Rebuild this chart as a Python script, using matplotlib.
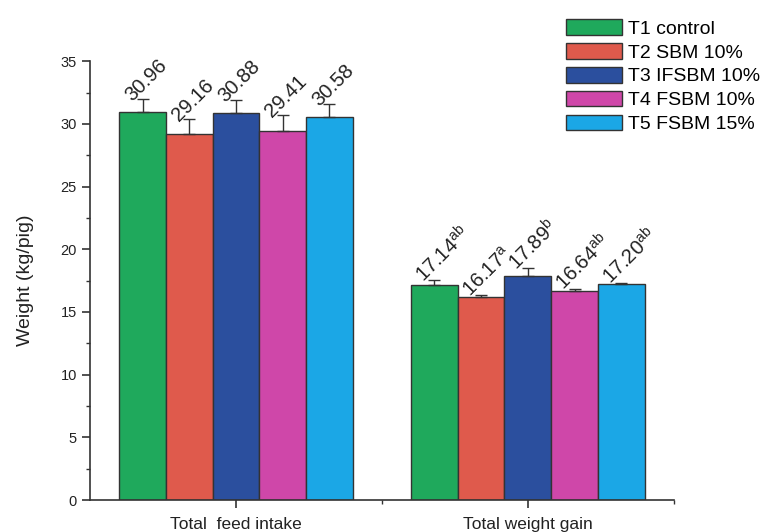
import matplotlib
matplotlib.use("Agg")
import matplotlib.pyplot as plt
import numpy as np

plt.rcParams['font.family'] = ['Liberation Sans', 'DejaVu Sans']
plt.rcParams['mathtext.fontset'] = 'custom'
plt.rcParams['mathtext.rm'] = 'Liberation Sans'

groups = ["Total  feed intake", "Total weight gain"]
treatments = ["T1 control", "T2 SBM 10%", "T3 IFSBM 10%", "T4 FSBM 10%", "T5 FSBM 15%"]
colors = ["#1fa95c", "#df5a4c", "#2b4f9e", "#cf47a9", "#1ba7e6"]

feed_intake = [30.96, 29.16, 30.88, 29.41, 30.58]
feed_err = [1.0, 1.2, 1.0, 1.3, 1.0]
weight_gain = [17.14, 16.17, 17.89, 16.64, 17.20]
gain_err = [0.4, 0.2, 0.6, 0.2, 0.15]
gain_letters = ["ab", "a", "b", "ab", "ab"]

fig = plt.figure(figsize=(7.7, 5.32), dpi=100)
ax = fig.add_axes([0.117, 0.060, 0.758, 0.825])

width = 0.16
x = np.arange(len(groups))
for i, name in enumerate(treatments):
    off = (i - 2) * width
    vals = [feed_intake[i], weight_gain[i]]
    errs = [feed_err[i], gain_err[i]]
    ax.bar(x + off, vals, width, color=colors[i], edgecolor="#333333",
           linewidth=1.0, label=name, zorder=2)
    ax.errorbar(x + off, vals, yerr=[[0, 0], errs], fmt="none",
                ecolor="#333333", elinewidth=1.0, capsize=4, capthick=1.0, zorder=3)
    labels = [f"{feed_intake[i]:.2f}",
              f"{weight_gain[i]:.2f}" + r"$^{\mathrm{" + gain_letters[i] + "}}$"]
    for xi, v, e, t in zip(x + off, vals, errs, labels):
        ax.annotate(t, (xi, v + e), xytext=(-5.5, -4), textcoords="offset points",
                    rotation=45, rotation_mode="anchor", ha="left", va="bottom",
                    fontsize=14.5, color="#222222")

ax.set_xlim(-0.5, 1.5)
ax.set_ylim(0, 35)
ax.set_yticks(np.arange(0, 36, 5))
ax.set_yticks(np.arange(0, 35, 2.5), minor=True)
ax.set_xticks(x)
ax.set_xticklabels(groups, fontsize=12.5)
ax.set_xticks([0.5, 1.5], minor=True)
for s in ["top", "right"]:
    ax.spines[s].set_visible(False)
for s in ["left", "bottom"]:
    ax.spines[s].set_color("#333333")
    ax.spines[s].set_linewidth(1.2)
ax.tick_params(axis="both", which="major", length=6, width=1.2, color="#333333",
               labelcolor="#222222")
ax.tick_params(axis="y", which="major", labelsize=10.5)
ax.tick_params(axis="x", which="major", pad=6)
ax.tick_params(axis="both", which="minor", length=3, width=1.0, color="#333333")
ax.set_ylabel("Weight (kg/pig)", fontsize=14, color="#222222", labelpad=19)

fig.legend(loc="upper left", bbox_to_anchor=(0.735, 0.964), frameon=False,
           fontsize=14, handlelength=2.9, handleheight=0.85, labelspacing=0.28,
           handletextpad=0.3, borderaxespad=0, borderpad=0)

fig.savefig("out.png", dpi=100)
